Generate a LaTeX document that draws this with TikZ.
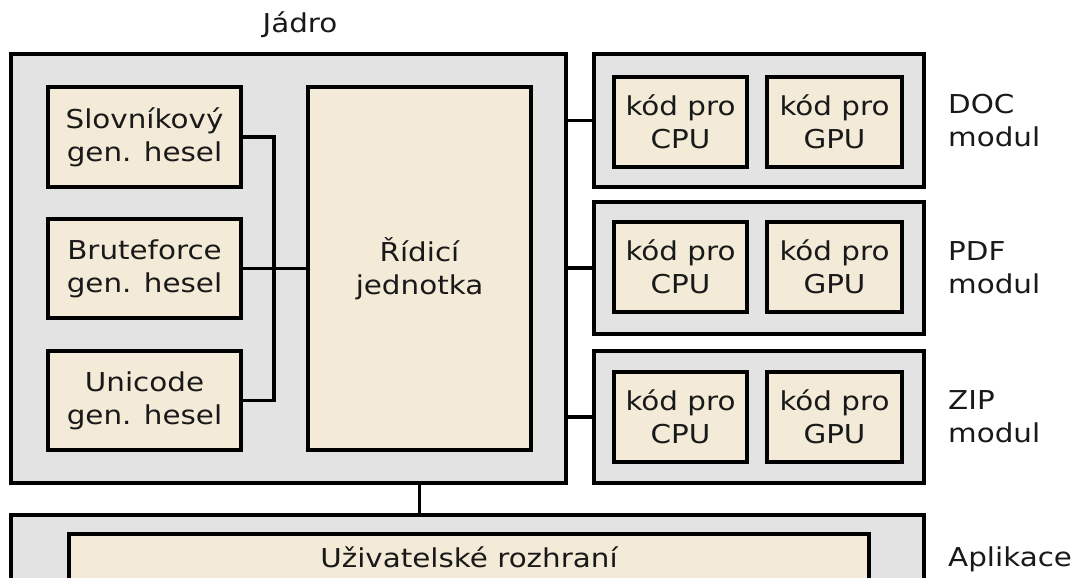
\documentclass[tikz,border=0pt]{standalone}
\usepackage{fontspec}
\setmainfont{DejaVu Sans}[FakeStretch=1.13]
\usetikzlibrary{calc}
\definecolor{boxgrey}{RGB}{227,227,227}
\definecolor{boxbeige}{RGB}{243,235,215}
\begin{document}
\begin{tikzpicture}[x=1pt,y=-1pt,
  every node/.style={font=\fontsize{26}{33}\selectfont, inner sep=0pt, text=black!90},
  outerbox/.style={draw=black, fill=boxgrey, line width=3.5pt, rectangle},
  innerbox/.style={draw=black, fill=boxbeige, line width=3.5pt, rectangle, align=center},
  conn/.style={draw=black, line width=3.2pt},
  lbl/.style={align=left, anchor=west}]
\useasboundingbox (0,0) rectangle (1077,578);
\clip (0,0) rectangle (1077,578);
\fill[white] (0,0) rectangle (1077,578);

% Core
\node[lbl, anchor=center] (jadrolbl) at (300,25) {Jádro};
\node[outerbox, minimum width=555pt, minimum height=429pt] (jadro) at (288.5,268.5) {};
\node[innerbox, minimum width=193pt, minimum height=100pt] (slov) at (144.5,137) {Slovníkový\\gen. hesel};
\node[innerbox, minimum width=193pt, minimum height=99pt] (brute) at (144.5,268.5) {Bruteforce\\gen. hesel};
\node[innerbox, minimum width=193pt, minimum height=99pt] (uni) at (144.5,400.5) {Unicode\\gen. hesel};
\node[innerbox, minimum width=223pt, minimum height=363pt] (ridici) at (419.5,268.5) {Řídicí\\jednotka};

\coordinate (bustop) at (274,137);
\coordinate (busbot) at (274,400.5);
\draw[conn] (slov.east) -- (bustop) -- (busbot) -- (uni.east);
\draw[conn] (brute.east) -- (ridici.west);

% Modules
\node[outerbox, minimum width=330pt, minimum height=133pt] (doc) at (759,120.5) {};
\node[innerbox, minimum width=133pt, minimum height=90pt] (docc) at (680.5,122) {kód pro\\CPU};
\node[innerbox, minimum width=135pt, minimum height=90pt] (docg) at (834.5,122) {kód pro\\GPU};
\node[lbl] (doclbl) at (948,120.5) {DOC\\modul};

\node[outerbox, minimum width=330pt, minimum height=132pt] (pdf) at (759,268) {};
\node[innerbox, minimum width=133pt, minimum height=90pt] (pdfc) at (680.5,267) {kód pro\\CPU};
\node[innerbox, minimum width=135pt, minimum height=90pt] (pdfg) at (834.5,267) {kód pro\\GPU};
\node[lbl] (pdflbl) at (948,268) {PDF\\modul};

\node[outerbox, minimum width=330pt, minimum height=132pt] (zip) at (759,417) {};
\node[innerbox, minimum width=133pt, minimum height=90pt] (zipc) at (680.5,417) {kód pro\\CPU};
\node[innerbox, minimum width=135pt, minimum height=90pt] (zipg) at (834.5,417) {kód pro\\GPU};
\node[lbl] (ziplbl) at (948,417) {ZIP\\modul};

\draw[conn] (jadro.east |- doc.west) -- (doc.west);
\draw[conn] (jadro.east |- pdf.west) -- (pdf.west);
\draw[conn] (jadro.east |- zip.west) -- (zip.west);

% Application
\node[outerbox, anchor=north, minimum width=913pt, minimum height=120pt] (apl) at (467.5,513) {};
\node[innerbox, anchor=north, minimum width=800pt, inner ysep=15pt, text height=19pt, text depth=6pt] (ui) at (469,532) {Uživatelské rozhraní};
\node[anchor=base west] (apllbl) at (948,566) {Aplikace};

\draw[conn] (ridici.south |- jadro.south) -- (ridici.south |- apl.north);
\end{tikzpicture}
\end{document}
